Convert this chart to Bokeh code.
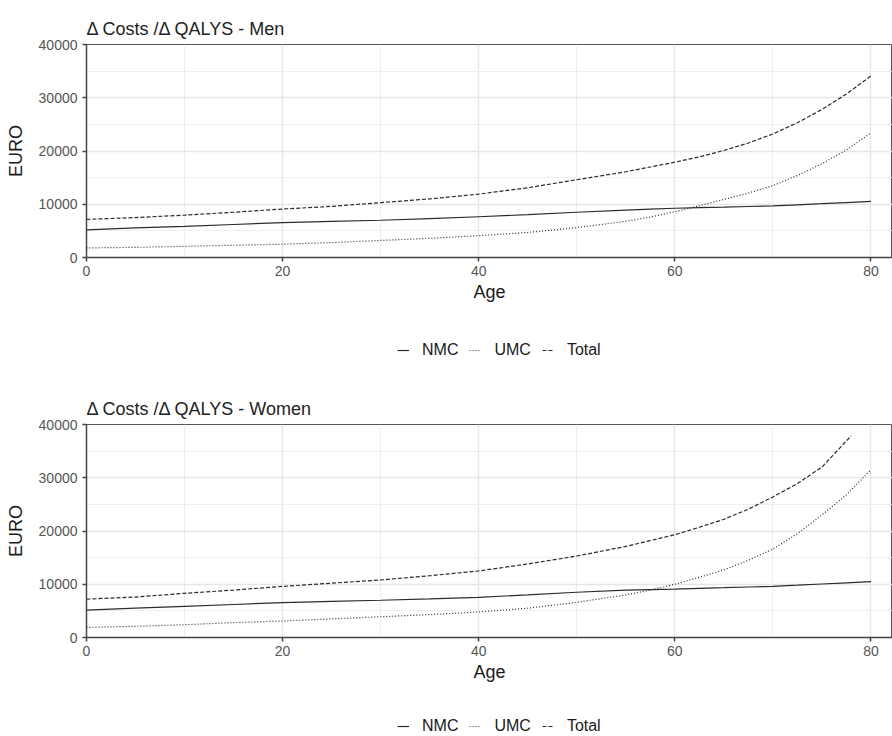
from bokeh.plotting import figure
from bokeh.layouts import column
from bokeh.models import (Legend, LegendItem, FixedTicker, Range1d,
                          ColumnDataSource, NumeralTickFormatter)
from bokeh.embed import file_html
from bokeh.resources import INLINE

# ---- data ----
ages = [0, 5, 10, 15, 20, 25, 30, 35, 40, 45, 50, 55, 57.5, 60, 62.5, 65,
        67.5, 70, 72.5, 75, 77.5, 80]

men_nmc = [5200, 5550, 5850, 6200, 6550, 6800, 7000, 7300, 7650, 8050, 8500,
           8900, 9080, 9250, 9350, 9450, 9580, 9700, 9900, 10100, 10320, 10550]
men_umc = [1800, 1900, 2100, 2300, 2500, 2800, 3200, 3600, 4100, 4700, 5600,
           6800, 7600, 8600, 9700, 10900, 12100, 13500, 15400, 17600, 20200, 23400]
men_total = [7160, 7500, 7950, 8500, 9100, 9600, 10300, 11000, 11900, 13100,
             14600, 16100, 17000, 17900, 18900, 20100, 21500, 23200, 25300,
             27800, 30700, 34100]

women_nmc = [5150, 5500, 5850, 6200, 6550, 6800, 7000, 7250, 7550, 8000, 8500,
             8900, 9000, 9100, 9230, 9350, 9480, 9600, 9820, 10050, 10270, 10500]
women_umc = [1900, 2100, 2400, 2800, 3100, 3500, 3900, 4300, 4800, 5500, 6600,
             8000, 8900, 10000, 11300, 12700, 14500, 16600, 19500, 23000, 26800, 31500]
women_total_ages = [0, 5, 10, 15, 20, 25, 30, 35, 40, 45, 50, 55, 57.5, 60,
                    62.5, 65, 67.5, 70, 72.5, 75, 78]
women_total = [7200, 7600, 8300, 8900, 9600, 10200, 10800, 11600, 12500, 13800,
               15300, 17100, 18200, 19300, 20700, 22200, 24100, 26400, 28900,
               32000, 37900]

x_ticks = [0, 20, 40, 60, 80]
x_minor = [10, 30, 50, 70]
y_ticks = [0, 10000, 20000, 30000, 40000]
y_minor = [5000, 15000, 25000, 35000]

series_labels = ["NMC", "UMC", "Total"]

FONT = "Liberation Sans"
LINE_COLOR = "#2b2b2b"
LINE_W = 1.2
DASH_UMC = "1 2"
DASH_TOTAL = "4 2"


def make_panel(title, nmc, umc, total, total_ages):
    p = figure(width=892, height=310,
               x_range=Range1d(0, 82.2), y_range=Range1d(0, 40000),
               output_backend="svg", toolbar_location=None,
               min_border_left=86, min_border_right=0, min_border_top=44,
               min_border_bottom=53)
    p.title.text = title
    p.title.text_font = FONT
    p.title.text_font_size = "18px"
    p.title.text_font_style = "normal"
    p.title.text_color = "#222222"
    p.title.offset = 0
    p.title.standoff = 11

    p.outline_line_color = "#555555"
    p.outline_line_width = 1

    p.xaxis.ticker = FixedTicker(ticks=x_ticks, minor_ticks=x_minor)
    p.yaxis.ticker = FixedTicker(ticks=y_ticks, minor_ticks=y_minor)
    p.yaxis.formatter = NumeralTickFormatter(format="0")

    for ax in (p.xaxis, p.yaxis):
        ax.axis_line_color = "#444444"
        ax.axis_line_width = 1.5
        ax.major_tick_line_color = "#444444"
        ax.major_tick_line_width = 1.5
        ax.major_tick_out = 4
        ax.major_tick_in = 0
        ax.minor_tick_line_color = None
        ax.major_label_text_font = FONT
        ax.major_label_text_font_size = "14px"
        ax.major_label_text_color = "#555555"
        ax.axis_label_text_font = FONT
        ax.axis_label_text_font_size = "18px"
        ax.axis_label_text_font_style = "normal"
        ax.axis_label_text_color = "#1a1a1a"

    p.xaxis.axis_label = "Age"
    p.yaxis.axis_label = "EURO"
    p.yaxis.axis_label_standoff = 10
    p.xaxis.axis_label_standoff = 3
    p.xaxis.major_label_standoff = 4

    for g in (p.xgrid, p.ygrid):
        g.grid_line_color = "#e6e6e6"
        g.grid_line_width = 1.4
        g.minor_grid_line_color = "#ededed"
        g.minor_grid_line_width = 0.9

    src_main = ColumnDataSource(dict(age=ages, nmc=nmc, umc=umc))
    src_total = ColumnDataSource(dict(age=total_ages, total=total))

    p.line("age", "nmc", source=src_main, line_color=LINE_COLOR,
           line_width=LINE_W)
    p.line("age", "umc", source=src_main, line_color=LINE_COLOR,
           line_width=LINE_W, line_dash=DASH_UMC)
    p.line("age", "total", source=src_total, line_color=LINE_COLOR,
           line_width=LINE_W, line_dash=DASH_TOTAL)
    return p


def make_legend(height, bottom_offset):
    lf = figure(width=892, height=height, x_range=Range1d(0, 1),
                y_range=Range1d(0, 1), output_backend="svg",
                toolbar_location=None, x_axis_location=None,
                y_axis_location=None, min_border=0,
                min_border_left=86, min_border_right=0)
    lf.outline_line_color = None
    lf.xgrid.visible = False
    lf.ygrid.visible = False
    # off-screen dummy data: only the legend swatches are visible
    dummy = ColumnDataSource(dict(x=[5, 6], y=[5, 6]))
    r1 = lf.line("x", "y", source=dummy, line_color=LINE_COLOR, line_width=LINE_W)
    r2 = lf.line("x", "y", source=dummy, line_color=LINE_COLOR, line_width=LINE_W,
                 line_dash=DASH_UMC)
    r3 = lf.line("x", "y", source=dummy, line_color=LINE_COLOR, line_width=LINE_W,
                 line_dash=DASH_TOTAL)
    legend = Legend(
        items=[LegendItem(label=series_labels[0], renderers=[r1]),
               LegendItem(label=series_labels[1], renderers=[r2]),
               LegendItem(label=series_labels[2], renderers=[r3])],
        orientation="horizontal", location=(311, bottom_offset),
        border_line_color=None, background_fill_alpha=0,
        margin=0, padding=0,
        label_height=14, glyph_height=14, glyph_width=12,
        label_standoff=13, spacing=11,
        label_text_font=FONT, label_text_font_size="16px",
        label_text_color="#1a1a1a")
    lf.add_layout(legend, "center")
    return lf


p1 = make_panel("\u0394 Costs /\u0394 QALYS - Men", men_nmc, men_umc,
                men_total, ages)
l1 = make_legend(70, 21)
p2 = make_panel("\u0394 Costs /\u0394 QALYS - Women", women_nmc, women_umc,
                women_total, women_total_ages)
l2 = make_legend(46, 1)

layout = column(p1, l1, p2, l2, spacing=0)
open("out.html", "w").write(file_html(layout, INLINE))
